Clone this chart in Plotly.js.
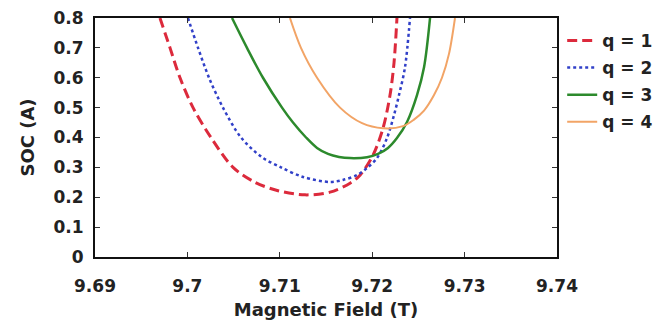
<!DOCTYPE html>
<html>
<head>
<meta charset="utf-8">
<script src="https://cdn.plot.ly/plotly-3.0.1.min.js"></script>
<style>
  html, body { margin: 0; padding: 0; background: #ffffff; }
  #chart { width: 656px; height: 327px; }
</style>
</head>
<body>
<div id="chart"></div>
<script>
// Spin-orbit coupling strength versus magnetic field for q = 1..4
const seriesNames = ["q = 1", "q = 2", "q = 3", "q = 4"];

const fieldQ1 = [9.69703, 9.69812, 9.69920, 9.70061, 9.70255, 9.70494, 9.70732, 9.70981, 9.71273, 9.71543, 9.71760, 9.71868, 9.72009, 9.72117, 9.72193, 9.72236, 9.72268];
const socQ1   = [0.800, 0.700, 0.600, 0.500, 0.400, 0.300, 0.250, 0.222, 0.208, 0.217, 0.247, 0.274, 0.341, 0.431, 0.542, 0.650, 0.800];

const fieldQ2 = [9.70006, 9.70115, 9.70234, 9.70385, 9.70580, 9.70807, 9.71013, 9.71251, 9.71543, 9.71684, 9.71835, 9.71944, 9.72052, 9.72160, 9.72236, 9.72290, 9.72355, 9.72409];
const socQ2   = [0.800, 0.700, 0.600, 0.500, 0.400, 0.334, 0.300, 0.268, 0.251, 0.258, 0.274, 0.298, 0.331, 0.398, 0.475, 0.542, 0.635, 0.800];

const fieldQ3 = [9.70483, 9.70645, 9.70818, 9.71024, 9.71143, 9.71284, 9.71403, 9.71522, 9.71641, 9.71760, 9.71944, 9.72063, 9.72171, 9.72268, 9.72377, 9.72485, 9.72561, 9.72626];
const socQ3   = [0.800, 0.700, 0.600, 0.500, 0.450, 0.400, 0.365, 0.345, 0.335, 0.331, 0.334, 0.345, 0.365, 0.398, 0.452, 0.542, 0.635, 0.800];

const fieldQ4 = [9.71110, 9.71229, 9.71403, 9.71652, 9.71890, 9.72117, 9.72333, 9.72452, 9.72561, 9.72669, 9.72755, 9.72831, 9.72896];
const socQ4   = [0.800, 0.700, 0.600, 0.500, 0.448, 0.431, 0.438, 0.460, 0.490, 0.542, 0.600, 0.680, 0.800];

const xTicks = [9.69, 9.70, 9.71, 9.72, 9.73, 9.74];
const yTicks = [0, 0.1, 0.2, 0.3, 0.4, 0.5, 0.6, 0.7, 0.8];

const fields = [fieldQ1, fieldQ2, fieldQ3, fieldQ4];
const socs = [socQ1, socQ2, socQ3, socQ4];
const lineStyles = [
  { color: "#dc2a3c", width: 3, dash: "10px,5px" },
  { color: "#3140c8", width: 2.5, dash: "dot" },
  { color: "#2c8a2c", width: 2.5, dash: "solid" },
  { color: "#f2a466", width: 2, dash: "solid" }
];

const traces = seriesNames.map((name, i) => ({
  x: fields[i],
  y: socs[i],
  name: name,
  legendgroup: "g" + i,
  type: "scatter",
  mode: "lines",
  line: Object.assign({ shape: "spline", smoothing: 0.9 }, lineStyles[i])
}));

const FAMILY = "DejaVu Sans, Verdana, sans-serif";
const tickFont = { family: FAMILY, size: 17, color: "#222", weight: "bold" };
const titleFont = { family: FAMILY, size: 18, color: "#222", weight: "bold" };

const layout = {
  width: 656,
  height: 327,
  margin: { l: 95, r: 99, t: 18, b: 70, autoexpand: false },
  paper_bgcolor: "#ffffff",
  plot_bgcolor: "#ffffff",
  showlegend: true,
  legend: {
    xref: "container", yref: "container",
    x: 0.857, xanchor: "left", y: 0.93, yanchor: "top",
    font: { family: FAMILY, size: 17, color: "#222", weight: "bold" },
    bgcolor: "rgba(0,0,0,0)",
    traceorder: "grouped",
    tracegroupgap: 2
  },
  xaxis: {
    range: [9.69, 9.74],
    tickvals: xTicks,
    ticktext: xTicks.map(v => String(+v.toFixed(2))),
    ticks: "inside", ticklen: 5, tickwidth: 1, tickcolor: "#333",
    ticklabelstandoff: 13,
    showline: true, linecolor: "#111", linewidth: 2, mirror: "ticks",
    showgrid: false, zeroline: false,
    tickfont: tickFont,
    title: { text: "Magnetic Field (T)", font: titleFont, standoff: 8 }
  },
  yaxis: {
    range: [0, 0.8],
    tickvals: yTicks,
    ticktext: yTicks.map(v => String(+v.toFixed(1))),
    ticks: "inside", ticklen: 5, tickwidth: 1, tickcolor: "#333",
    ticklabelstandoff: 6,
    showline: true, linecolor: "#111", linewidth: 2, mirror: "ticks",
    showgrid: false, zeroline: false,
    tickfont: tickFont,
    title: { text: "SOC (A)", font: titleFont, standoff: 14 }
  }
};

Plotly.newPlot("chart", traces, layout, { staticPlot: true, displayModeBar: false });
</script>
</body>
</html>
